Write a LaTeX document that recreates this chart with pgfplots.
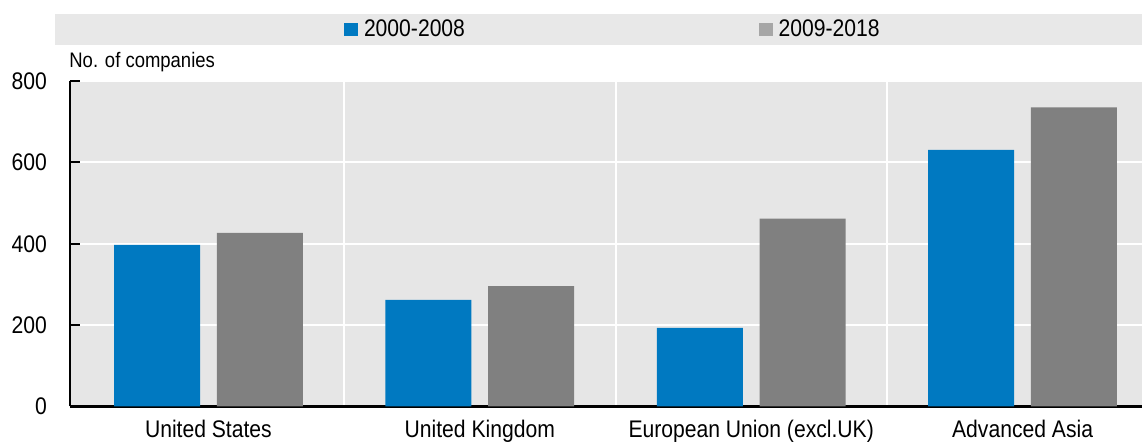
\documentclass[border=0pt]{standalone}
\usepackage{fontspec}
\setmainfont[FakeStretch=0.88]{Liberation Sans}
\usepackage{pgfplots}
\pgfplotsset{compat=1.18}
\definecolor{barblue}{HTML}{0079C1}
\definecolor{bargray}{HTML}{808080}
\definecolor{leggray}{HTML}{A6A6A6}
\definecolor{bggray}{HTML}{E6E6E6}
\definecolor{legbg}{HTML}{E8E8E8}
\pgfplotstableread{
x a b
0 397 427
1 262 296
2 193 462
3 631 735
}\datatable
\begin{document}
\begin{tikzpicture}
\useasboundingbox (0,0) rectangle (571pt,221.5pt);
\clip (0,0) rectangle (571pt,221.5pt);
\fill[legbg] (27.5pt,199pt) rectangle (571pt,214.5pt);
\begin{axis}[
  at={(35pt,18.25pt)}, anchor=south west,
  scale only axis, width=536pt, height=162.75pt,
  xmin=-0.51, xmax=3.44, ymin=0, ymax=800,
  axis background/.style={fill=bggray},
  axis x line*=bottom, axis y line*=left,
  x axis line style={black, line width=1.3pt, -},
  y axis line style={black, line width=1pt, -},
  ytick={0,200,400,600,800},
  tick align=inside,
  major tick length=5pt,
  y tick style={black, line width=1pt},
  x tick style={draw=none},
  minor x tick style={draw=none},
  xtick={0,1,2,3},
  xticklabels={United States, United Kingdom, European Union (excl.UK), Advanced Asia},
  minor xtick={0.5,1.5,2.5},
  xminorgrids=true, ymajorgrids=true,
  grid style={white, line width=1pt},
  minor grid style={white, line width=1pt},
  /pgf/number format/assume math mode=true,
  ticklabel style={font=\fontsize{12}{14}\selectfont},
  yticklabel style={xshift=-8pt},
  xticklabel style={yshift=1.5pt},
  ybar, bar width=43pt,
  legend columns=2,
  legend style={at={(0.2556,1.158)}, anchor=west, draw=none, fill=none,
    inner sep=0pt, font=\fontsize{12}{14}\selectfont,
    /tikz/every even column/.append style={column sep=145pt}},
  legend image code/.code={\fill[#1] (0pt,-3.2pt) rectangle (6.8pt,3.2pt);},
  clip=false,
]
\addlegendimage{fill=barblue, draw=none}
\addlegendentry{\hspace{1pt}2000-2008}
\addlegendimage{fill=leggray, draw=none}
\addlegendentry{\hspace{1pt}2009-2018}
\addplot[fill=barblue, draw=none, bar shift=-25.7pt, forget plot] table[x=x, y=a] {\datatable};
\addplot[fill=bargray, draw=none, bar shift=25.7pt, forget plot] table[x=x, y=b] {\datatable};
\node[anchor=base west, inner sep=0pt, font=\fontsize{10.5}{12}\selectfont] at ([xshift=-0.5pt, yshift=7pt]rel axis cs:0,1) {No. of companies};
\end{axis}
\end{tikzpicture}
\end{document}
